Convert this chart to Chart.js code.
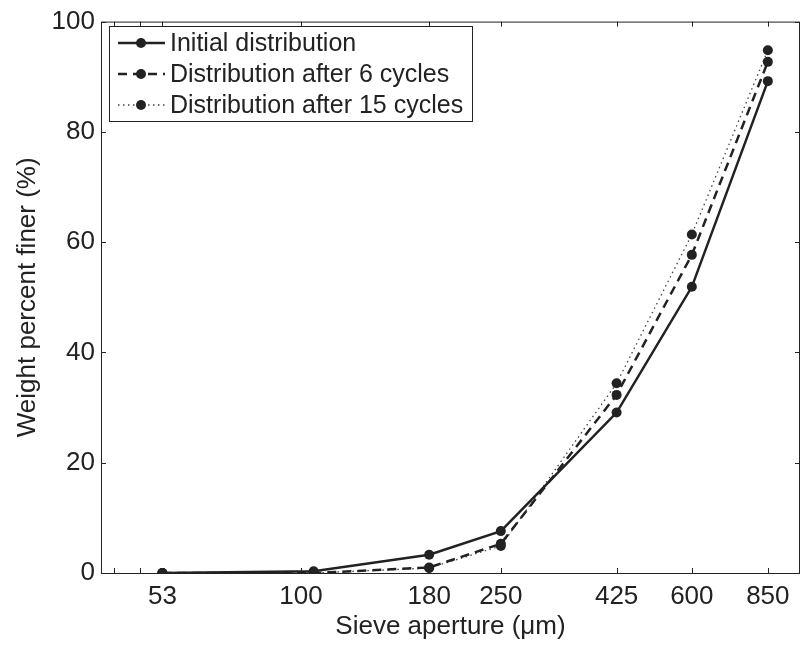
<!DOCTYPE html>
<html lang="en">
<head>
  <meta charset="UTF-8">
  <title>Sieve analysis</title>
  <script src="https://cdn.jsdelivr.net/npm/chart.js"></script>
  <style>
    html, body { margin: 0; padding: 0; background: #fff; }
    #wrap { width: 805px; height: 646px; }
  </style>
</head>
<body>
  <div id="wrap"><canvas id="chart" width="805" height="646"></canvas></div>

  <script>
    // sieve sizes (um) and cumulative weight percent finer
    const sieveSizes = [53, 106, 180, 250, 425, 600, 850];
    const initialDist = [0, 0.3, 3.3, 7.6, 29.1, 51.9, 89.2];
    const after6Cycles = [0, 0, 1.0, 5.3, 32.3, 57.7, 92.7];
    const after15Cycles = [0, 0, 0.9, 4.9, 34.4, 61.4, 94.8];

    const xTickValues = [53, 100, 180, 250, 425, 600, 850];
    const xMinorTicks = [42.4, 47.8];
    const yTickValues = [0, 20, 40, 60, 80, 100];

    const ink = '#222';
    const fontFamily = '"Liberation Sans", Arial, Helvetica, sans-serif';

    const toPoints = ys => sieveSizes.map((x, i) => ({ x: x, y: ys[i] }));

    // matlab style: box round the axes, ticks pointing inward on all four sides
    const boxTicks = {
      id: 'boxTicks',
      afterDraw(chart) {
        const { ctx, chartArea: a, scales } = chart;
        ctx.save();
        ctx.strokeStyle = ink;
        ctx.lineWidth = 1;
        ctx.strokeRect(a.left + 0.5, a.top + 0.5, a.right - a.left - 1, a.bottom - a.top);
        const len = 5;
        ctx.beginPath();
        scales.x.ticks.forEach(t => {
          const px = Math.round(scales.x.getPixelForValue(t.value)) + 0.5;
          ctx.moveTo(px, a.bottom); ctx.lineTo(px, a.bottom - len);
          ctx.moveTo(px, a.top); ctx.lineTo(px, a.top + len);
        });
        scales.y.ticks.forEach(t => {
          const py = Math.round(scales.y.getPixelForValue(t.value)) + 0.5;
          ctx.moveTo(a.left, py); ctx.lineTo(a.left + len, py);
          ctx.moveTo(a.right, py); ctx.lineTo(a.right - len, py);
        });
        ctx.stroke();
        ctx.restore();
      }
    };

    // boxed legend in the upper left corner of the plot
    const boxLegend = {
      id: 'boxLegend',
      afterDatasetsDraw(chart) {
        const { ctx } = chart;
        const x0 = 109, y0 = 26, w = 363, h = 95;
        ctx.save();
        ctx.fillStyle = '#fff';
        ctx.fillRect(x0, y0, w, h);
        ctx.strokeStyle = ink;
        ctx.lineWidth = 1;
        ctx.strokeRect(x0 + 0.5, y0 + 0.5, w, h);
        ctx.font = '25px ' + fontFamily;
        ctx.textBaseline = 'middle';
        chart.data.datasets.forEach((ds, i) => {
          const y = 43 + i * 31;
          ctx.strokeStyle = ds.borderColor;
          ctx.lineWidth = ds.borderWidth;
          ctx.setLineDash(ds.borderDash || []);
          ctx.beginPath();
          ctx.moveTo(118, y); ctx.lineTo(165, y);
          ctx.stroke();
          ctx.setLineDash([]);
          ctx.fillStyle = ds.pointBackgroundColor;
          ctx.beginPath();
          ctx.arc(141, y, ds.pointRadius, 0, Math.PI * 2);
          ctx.fill();
          ctx.fillStyle = ink;
          ctx.fillText(ds.label, 170, y + 1);
        });
        ctx.restore();
      }
    };

    new Chart(document.getElementById('chart'), {
      type: 'line',
      data: {
        datasets: [
          {
            label: 'Initial distribution',
            data: toPoints(initialDist),
            borderColor: ink, borderWidth: 2.5, borderDash: [],
            pointRadius: 5, pointBackgroundColor: ink, pointBorderColor: ink, pointBorderWidth: 0
          },
          {
            label: 'Distribution after 6 cycles',
            data: toPoints(after6Cycles),
            borderColor: ink, borderWidth: 2.5, borderDash: [9, 6],
            pointRadius: 5, pointBackgroundColor: ink, pointBorderColor: ink, pointBorderWidth: 0
          },
          {
            label: 'Distribution after 15 cycles',
            data: toPoints(after15Cycles),
            borderColor: '#444', borderWidth: 1.3, borderDash: [1.5, 3.5],
            pointRadius: 5, pointBackgroundColor: ink, pointBorderColor: ink, pointBorderWidth: 0
          }
        ]
      },
      options: {
        responsive: false,
        animation: false,
        devicePixelRatio: 1,
        layout: { padding: { top: 19, right: 2, left: 0, bottom: 0 } },
        plugins: {
          legend: { display: false },
          tooltip: { enabled: false }
        },
        scales: {
          x: {
            type: 'logarithmic',
            min: 40,
            max: 985,
            afterBuildTicks: s => {
              s.ticks = xMinorTicks.concat(xTickValues).map(v => ({ value: v }));
            },
            afterFit: s => { s.height = 73; },
            grid: { display: false, drawTicks: false },
            border: { display: false },
            ticks: {
              autoSkip: false,
              maxRotation: 0,
              padding: 8,
              color: ink,
              font: { family: fontFamily, size: 26 },
              callback: v => xTickValues.includes(v) ? String(v) : ''
            },
            title: {
              display: true,
              text: 'Sieve aperture (μm)',
              color: ink,
              font: { family: fontFamily, size: 26, lineHeight: 1.2 },
              padding: { top: 0, bottom: 4 }
            }
          },
          y: {
            min: 0,
            max: 100,
            afterBuildTicks: s => {
              s.ticks = yTickValues.map(v => ({ value: v }));
            },
            afterFit: s => { s.width = 101; },
            grid: { display: false, drawTicks: false },
            border: { display: false },
            ticks: {
              padding: 6,
              color: ink,
              font: { family: fontFamily, size: 26 }
            },
            title: {
              display: true,
              text: 'Weight percent finer (%)',
              color: ink,
              font: { family: fontFamily, size: 26, lineHeight: 1.2 },
              padding: { top: 12, bottom: 0 }
            }
          }
        }
      },
      plugins: [boxTicks, boxLegend]
    });
  </script>
</body>
</html>
